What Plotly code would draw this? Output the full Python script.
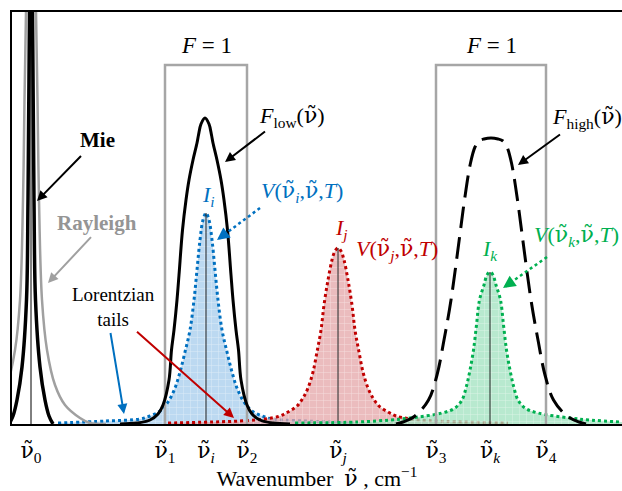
import plotly.graph_objects as go

# ---------------- data (read from the schematic, arbitrary units) ----------------
# marked wavenumbers on the x axis
NU = "<span style='font-family:DejaVu Serif'>ν̃</span>"
nu_pos = [31, 165, 206, 247, 338, 436, 490, 546]
nu_sub = ["0", "1", "<i>i</i>", "2", "<i>j</i>", "3", "<i>k</i>", "4"]
F_ONE = 359          # transmission level F = 1 of the two filters

# Mie peak (centre nu0): intensity levels and half widths
mie_center = 31
mie_lev = [700, 412, 224, 124, 57, 24, 8, 0]
mie_hw = [0, 1.5, 3, 4.5, 9, 14, 18, 22]

# Rayleigh peak
ray_center = 31
ray_lev = [800, 560, 412, 324, 224, 124, 74, 39, 19, 6, 1, 0]
ray_hw = [0, 3, 5, 6.5, 8, 11, 16, 24, 34, 49, 59, 75]

# filter functions
flow_center = 205
flow_lev = [306, 300, 289, 281, 264, 244, 224, 194, 149, 124, 94, 74, 44, 19, 10, 4, 1, 0]
flow_hw = [0, 4, 6.5, 8, 12, 16, 19, 22.5, 26, 28, 31, 33.5, 36, 42, 47, 55, 68, 85]

fhigh_center = 491
fhigh_lev = [286, 285, 283, 277, 261, 224, 194, 124, 84, 49, 24, 8, 2, 0]
fhigh_hw = [0, 7, 12, 16, 20.5, 26.5, 30.5, 40, 47, 54, 62.5, 76, 88, 95]

# Voigt line profiles
vi_center = 206
vi_lev = [211, 204, 184, 154, 124, 94, 72, 52, 36, 22, 13, 8, 5, 3, 1]
vi_hw = [0, 3, 6, 9, 12, 16, 21, 26, 31, 38, 46, 56, 66, 100, 148]

vj_center = 338
vj_lev = [176, 173, 164, 144, 119, 94, 72, 52, 36, 26, 18, 12, 8, 5, 3, 1]
vj_hw = [0, 3, 6, 10, 14, 17, 21, 25, 30, 35, 41, 50, 58, 73, 98, 170]

vk_center = 490
vk_lev = [152, 149, 139, 124, 99, 74, 54, 38, 24, 16, 11, 6, 4, 2, 1]
vk_hw = [0, 3, 6, 10.5, 13.5, 16.5, 20, 23.5, 28, 35, 48, 80, 100, 132, 195]

# ---------------- styles ----------------
BLUE, RED, GREEN = "#0070C0", "#C00000", "#00B050"
GREY_BOX, GREY_RAY = "#A6A6A6", "#A0A0A0"
FONT = "Liberation Serif, Times New Roman, serif"


def profile(center, lev, hw):
    xs = [center - h for h in hw[::-1]] + [center + h for h in hw[1:]]
    ys = lev[::-1] + lev[1:]
    return xs, ys


fig = go.Figure()

# Voigt profiles (filled, dotted)
for c, lev, hw, col, bg in [
    (vi_center, vi_lev, vi_hw, BLUE, "rgba(165,204,236,0.75)"),
    (vj_center, vj_lev, vj_hw, RED, "rgba(228,165,168,0.75)"),
    (vk_center, vk_lev, vk_hw, GREEN, "rgba(160,225,190,0.75)"),
]:
    xs, ys = profile(c, lev, hw)
    fig.add_trace(go.Scatter(
        x=xs, y=ys, mode="lines", line=dict(color=col, width=3, dash="dot", shape="spline"),
        fill="tozeroy", fillcolor=bg,
        fillpattern=dict(shape="+", bgcolor=bg, fgcolor="white", fgopacity=0.55, size=7, solidity=0.12),
        hoverinfo="skip"))
    fig.add_trace(go.Scatter(x=[c, c], y=[0, lev[0]], mode="lines",
                             line=dict(color="#222222", width=1), hoverinfo="skip"))

# filter windows F = 1
for a, b in [(nu_pos[1], nu_pos[3]), (nu_pos[5], nu_pos[7])]:
    fig.add_trace(go.Scatter(x=[a, a, b, b], y=[0, F_ONE, F_ONE, 0], mode="lines",
                             line=dict(color=GREY_BOX, width=2.5), hoverinfo="skip"))

# Rayleigh and Mie
xs, ys = profile(ray_center, ray_lev, ray_hw)
fig.add_trace(go.Scatter(x=xs, y=ys, mode="lines",
                         line=dict(color=GREY_RAY, width=2.5, shape="spline"), hoverinfo="skip"))
xs, ys = profile(mie_center, mie_lev, mie_hw)
fig.add_trace(go.Scatter(x=xs, y=ys, mode="lines",
                         line=dict(color="black", width=3.5, shape="spline"), hoverinfo="skip"))
fig.add_trace(go.Scatter(x=[nu_pos[0], nu_pos[0]], y=[0, 1000], mode="lines",
                         line=dict(color="black", width=1), hoverinfo="skip"))

# filter functions
xs, ys = profile(flow_center, flow_lev, flow_hw)
fig.add_trace(go.Scatter(x=xs, y=ys, mode="lines",
                         line=dict(color="black", width=3, shape="spline"), hoverinfo="skip"))
xs, ys = profile(fhigh_center, fhigh_lev, fhigh_hw)
fig.add_trace(go.Scatter(x=xs, y=ys, mode="lines",
                         line=dict(color="black", width=3, shape="spline", dash="22px,9px"),
                         hoverinfo="skip"))

# ---------------- annotations ----------------
ann = []


def text(x, y, s, color="black", size=20, **kw):
    ann.append(dict(x=x, y=y, xref="x", yref="y", text=s, showarrow=False,
                    font=dict(family=FONT, size=size, color=color), **kw))


def arrow(x0, y0, x1, y1, color, width=2):
    ann.append(dict(x=x1, y=y1, ax=x0, ay=y0, xref="x", yref="y", axref="x", ayref="y",
                    text=" ", showarrow=True, arrowhead=2, arrowsize=1, arrowwidth=width,
                    arrowcolor=color, font=dict(size=2)))


def dotted_arrow(x0, y0, x1, y1, color):
    fig.add_trace(go.Scatter(x=[x0, x1], y=[y0, y1], mode="lines",
                             line=dict(color=color, width=2.5, dash="dot"), hoverinfo="skip"))
    f = 0.12
    arrow(x1 + (x0 - x1) * f, y1 + (y0 - y1) * f, x1, y1, color, 2.5)


text(97, 284, "<b>Mie</b>", size=21)
arrow(83, 270, 37, 223, "black")
text(97, 201, "<b>Rayleigh</b>", color="#959595", size=21)
arrow(93, 189, 48, 141, GREY_RAY)
text(113, 117, "Lorentzian<br>tails", size=19)
arrow(110, 94, 124, 10, BLUE)
arrow(135, 94, 234, 6, RED)

text(206, 379, "<i>F</i> = 1", size=23)
text(491, 379, "<i>F</i> = 1", size=23)
text(292, 307, "<i>F</i><sub>low</sub>(" + NU + ")", size=22)
arrow(267, 294, 225, 262, "black")
text(587, 306, "<i>F</i><sub>high</sub>(" + NU + ")", size=22)
arrow(562, 291, 518, 259, "black")

text(208, 228, "<i>I<sub>i</sub></i>", color=BLUE, size=22)
text(302, 232, "<i>V</i>(" + NU + "<sub><i>i</i></sub>," + NU + ",<i>T</i>)", color=BLUE, size=22)
dotted_arrow(260, 216, 217, 184, BLUE)
text(341, 195, "<i>I<sub>j</sub></i>", color=RED, size=22)
text(397, 174, "<i>V</i>(" + NU + "<sub><i>j</i></sub>," + NU + ",<i>T</i>)", color=RED, size=22)
text(490, 174, "<i>I<sub>k</sub></i>", color=GREEN, size=22)
text(576, 188, "<i>V</i>(" + NU + "<sub><i>k</i></sub>," + NU + ",<i>T</i>)", color=GREEN, size=22)
dotted_arrow(547, 167, 503, 136, GREEN)

nu_text = [NU + "<sub>" + s + "</sub>" for s in nu_sub]

fig.update_layout(
    width=622, height=491, margin=dict(l=12, r=0, t=12, b=67),
    paper_bgcolor="white", plot_bgcolor="white", showlegend=False,
    annotations=ann,
    xaxis=dict(range=[12, 622], showgrid=False, zeroline=False, showline=True, linecolor="black",
               linewidth=2, mirror=True, ticks="", tickvals=nu_pos, ticktext=nu_text,
               ticklabelstandoff=6,
               tickfont=dict(family=FONT, size=22, color="black"),
               title=dict(text="Wavenumber  " + NU + " , cm<sup>−1</sup>", standoff=6,
                          font=dict(family=FONT, size=22, color="black"))),
    yaxis=dict(range=[0, 412], showgrid=False, zeroline=False, showline=True, linecolor="black",
               linewidth=2, showticklabels=False, ticks=""),
)

fig.write_html("out.html")
